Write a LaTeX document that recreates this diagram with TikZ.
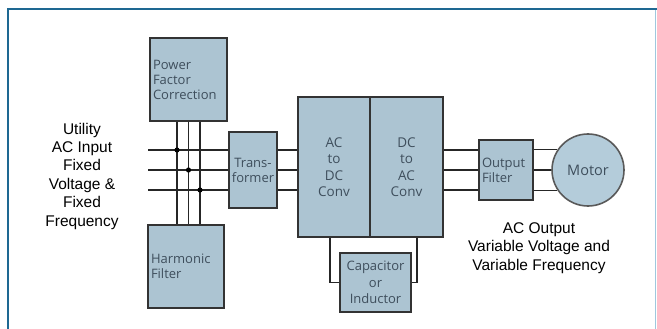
\documentclass[tikz,border=0pt]{standalone}
\usepackage{fontspec}
\setmainfont{Liberation Sans}
\newfontfamily\boxfont{Open Sans}
\usepackage{tikz}
\usetikzlibrary{positioning, calc}
\definecolor{boxfill}{RGB}{172,196,210}
\definecolor{motorfill}{RGB}{180,204,218}
\definecolor{boxtext}{RGB}{62,78,92}
\definecolor{frameblue}{RGB}{30,104,146}
\definecolor{framelight}{RGB}{160,200,222}

\begin{document}
\begin{tikzpicture}[
    x=1pt, y=-1pt,
    block/.style={rectangle, draw=black!80, line width=1.6pt, fill=boxfill,
                  inner sep=3pt, text=boxtext,
                  font=\boxfont\fontsize{13}{15}\selectfont},
    motorblock/.style={circle, draw=black!65, line width=1.6pt, fill=motorfill,
                       minimum size=72pt, text=boxtext,
                       font=\boxfont\fontsize{14.5}{16}\selectfont},
    wire/.style={line width=1.3pt, black!85},
    infotext/.style={font=\fontsize{15.5}{18.4}\selectfont, align=center}
]
\useasboundingbox (0,0) rectangle (657,329);

% Frame
\draw[frameblue, line width=2pt] (8,330) -- (8,9.5) -- (657,9.5);
\draw[framelight, line width=1.5pt] (655.5,10.5) -- (655.5,330);

% Blocks
\node[block, minimum width=77pt, minimum height=83pt, text width=71pt,
      align=left] (pfc) at (188.5,79.5) {Power\\Factor\\Correction};
\node[block, minimum width=76pt, minimum height=83pt, text width=70pt,
      align=left] (hf) at (186,266.5) {Harmonic\\Filter};
\node[block, minimum width=48pt, minimum height=76pt, inner xsep=1pt,
      align=center] (trans) at (253,170) {Trans-\\former};
\node[block, minimum width=72pt, minimum height=140pt, align=center,
      font=\boxfont\fontsize{13.5}{16.5}\selectfont]
      (acdc) at (334,167) {AC\\to\\DC\\Conv};
\node[block, minimum width=73pt, minimum height=140pt, align=center,
      font=\boxfont\fontsize{13.5}{16.5}\selectfont]
      (dcac) at (406.5,167) {DC\\to\\AC\\Conv};
\node[block, minimum width=71pt, minimum height=59pt, align=center,
      font=\boxfont\fontsize{13}{16.5}\selectfont]
      (cap) at (375.5,282.5) {Capacitor\\or\\Inductor};
\node[block, minimum width=54pt, minimum height=60pt, text width=48pt,
      align=left] (filter) at (506,170) {Output\\Filter};
\node[motorblock] (motor) at (588,170) {Motor};

% Three-phase lines
\foreach \y [count=\i] in {150,170,190} {
    \coordinate (in\i) at (148,\y);
    \draw[wire] (in\i) -- (in\i -| trans.west);
    \draw[wire] (trans.east |- in\i) -- (acdc.west |- in\i);
    \draw[wire] (dcac.east |- in\i) -- (filter.west |- in\i);
}
\foreach \a in {146,180,214}
    \draw[wire] (filter.east |- motor.\a) -- (motor.\a);

% Bus between the filters
\foreach \dx [count=\i] in {-11.5,0,11.5} {
    \coordinate (bus\i) at ([xshift=\dx pt]pfc.south);
    \draw[wire] (bus\i) -- (bus\i |- hf.north);
    \fill (bus\i |- in\i) circle (2.6pt);
}

% DC link
\draw[wire] ([xshift=-4pt]acdc.south) |- (cap.west);
\draw[wire] ([xshift=10.5pt]dcac.south) |- (cap.east);

% Labels
\node[infotext] (inlabel) at (82,176)
    {Utility\\AC Input\\Fixed\\Voltage \&\\Fixed\\Frequency};
\node[infotext] (outlabel) at (539,248)
    {AC Output\\Variable Voltage and\\Variable Frequency};

\end{tikzpicture}
\end{document}
